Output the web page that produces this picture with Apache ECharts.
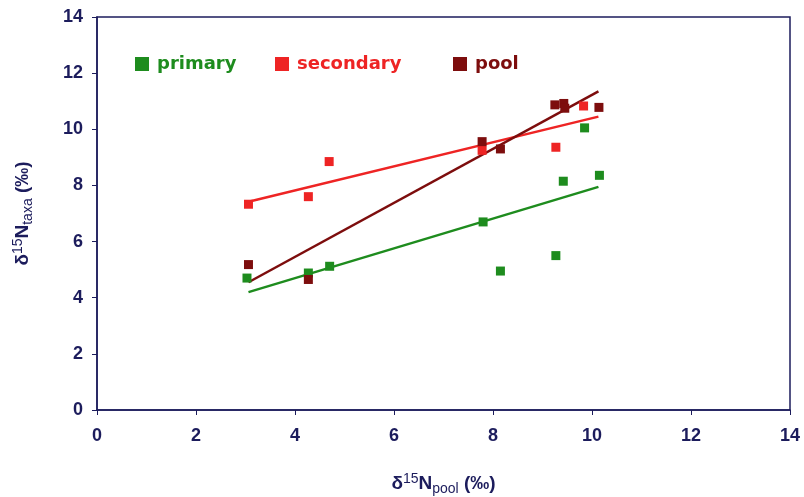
<!DOCTYPE html>
<html><head><meta charset="utf-8">
<script src="https://cdn.jsdelivr.net/npm/echarts@6/dist/echarts.min.js"></script>
<style>html,body{margin:0;padding:0;background:#fff}#c{width:804px;height:497px}</style>
</head><body><div id="c"></div>
<script>
const xTicks = [0,2,4,6,8,10,12,14];
const yTicks = [0,2,4,6,8,10,12,14];
const primaryX = [3.03, 4.27, 4.7, 7.8, 8.15, 9.27, 9.42, 9.85, 10.15];
const primaryY = [4.7, 4.88, 5.12, 6.7, 4.95, 5.5, 8.15, 10.05, 8.36];
const secondaryX = [3.06, 4.27, 4.69, 7.78, 9.27, 9.83];
const secondaryY = [7.33, 7.6, 8.85, 9.25, 9.36, 10.83];
const poolX = [3.06, 4.27, 7.78, 8.15, 9.25, 9.43, 9.45, 10.14];
const poolY = [5.18, 4.65, 9.56, 9.3, 10.87, 10.92, 10.75, 10.78];
const primaryFitX = [3.06, 10.13], primaryFitY = [4.2, 7.95];
const secondaryFitX = [3.06, 10.13], secondaryFitY = [7.42, 10.45];
const poolFitX = [3.06, 10.13], poolFitY = [4.55, 11.35];

const cPrim = '#1e8c1e', cSec = '#ee2424', cPool = '#7d0d0d', navy = '#1c1c5c';
const FF = 'Liberation Sans, Arial';
const zip = (a,b) => a.map((v,i)=>[v,b[i]]);
const chart = echarts.init(document.getElementById('c'));
const pts = (name, x, y, col) => ({name, type:'scatter', data: zip(x,y), symbol:'rect', symbolSize:9, itemStyle:{color:col, opacity:1}, z:3});
const fit = (x, y, col) => ({type:'line', data: zip(x,y), symbol:'none', lineStyle:{color:col, width:2.5}, z:2, silent:true});
const leg = (name, left, col) => ({left, top:50, itemWidth:14, itemHeight:14, icon:'rect', itemGap:0,
  data:[{name, itemStyle:{opacity:1}}], textStyle:{color:col, fontFamily:'DejaVu Sans', fontWeight:'bold', fontSize:18, padding:[0,0,0,3]}});
const rich = {
  a:{color:navy, fontFamily:FF, fontWeight:'bold', fontSize:19},
  s:{color:navy, fontFamily:FF, fontSize:14, verticalAlign:'top', padding:[0,0,9,0]},
  b:{color:navy, fontFamily:FF, fontSize:14, verticalAlign:'bottom', padding:[10,0,0,0]}};
chart.setOption({
  animation:false,
  grid:{left:97, right:14, top:17, bottom:87, show:true, borderColor:navy, borderWidth:1.5, outerBoundsMode:'none', containLabel:false},
  legend:[leg('primary', 130, cPrim), leg('secondary', 270, cSec), leg('pool', 448, cPool)],
  xAxis:{type:'value', min:0, max:14, interval:2,
    axisLine:{lineStyle:{color:navy, width:1.5}}, axisTick:{show:true, length:5, lineStyle:{color:navy}},
    splitLine:{show:false},
    axisLabel:{color:navy, fontFamily:FF, fontWeight:'bold', fontSize:18, margin:17},
    name:'{a|δ}{s|15}{a|N}{b|pool}{a| (‰)}', nameLocation:'middle', nameGap:62,
    nameTextStyle:{rich}},
  yAxis:{type:'value', min:0, max:14, interval:2,
    axisLine:{show:true, lineStyle:{color:navy, width:1.5}}, axisTick:{show:true, length:5, lineStyle:{color:navy}},
    splitLine:{show:false},
    axisLabel:{color:navy, fontFamily:FF, fontWeight:'bold', fontSize:18, margin:14},
    name:'{a|δ}{s|15}{a|N}{b|taxa}{a| (‰)}', nameLocation:'middle', nameGap:62, nameRotate:90,
    nameTextStyle:{rich}},
  series:[
    pts('primary', primaryX, primaryY, cPrim),
    pts('secondary', secondaryX, secondaryY, cSec),
    pts('pool', poolX, poolY, cPool),
    fit(primaryFitX, primaryFitY, cPrim),
    fit(secondaryFitX, secondaryFitY, cSec),
    fit(poolFitX, poolFitY, cPool)
  ]
});
</script></body></html>
